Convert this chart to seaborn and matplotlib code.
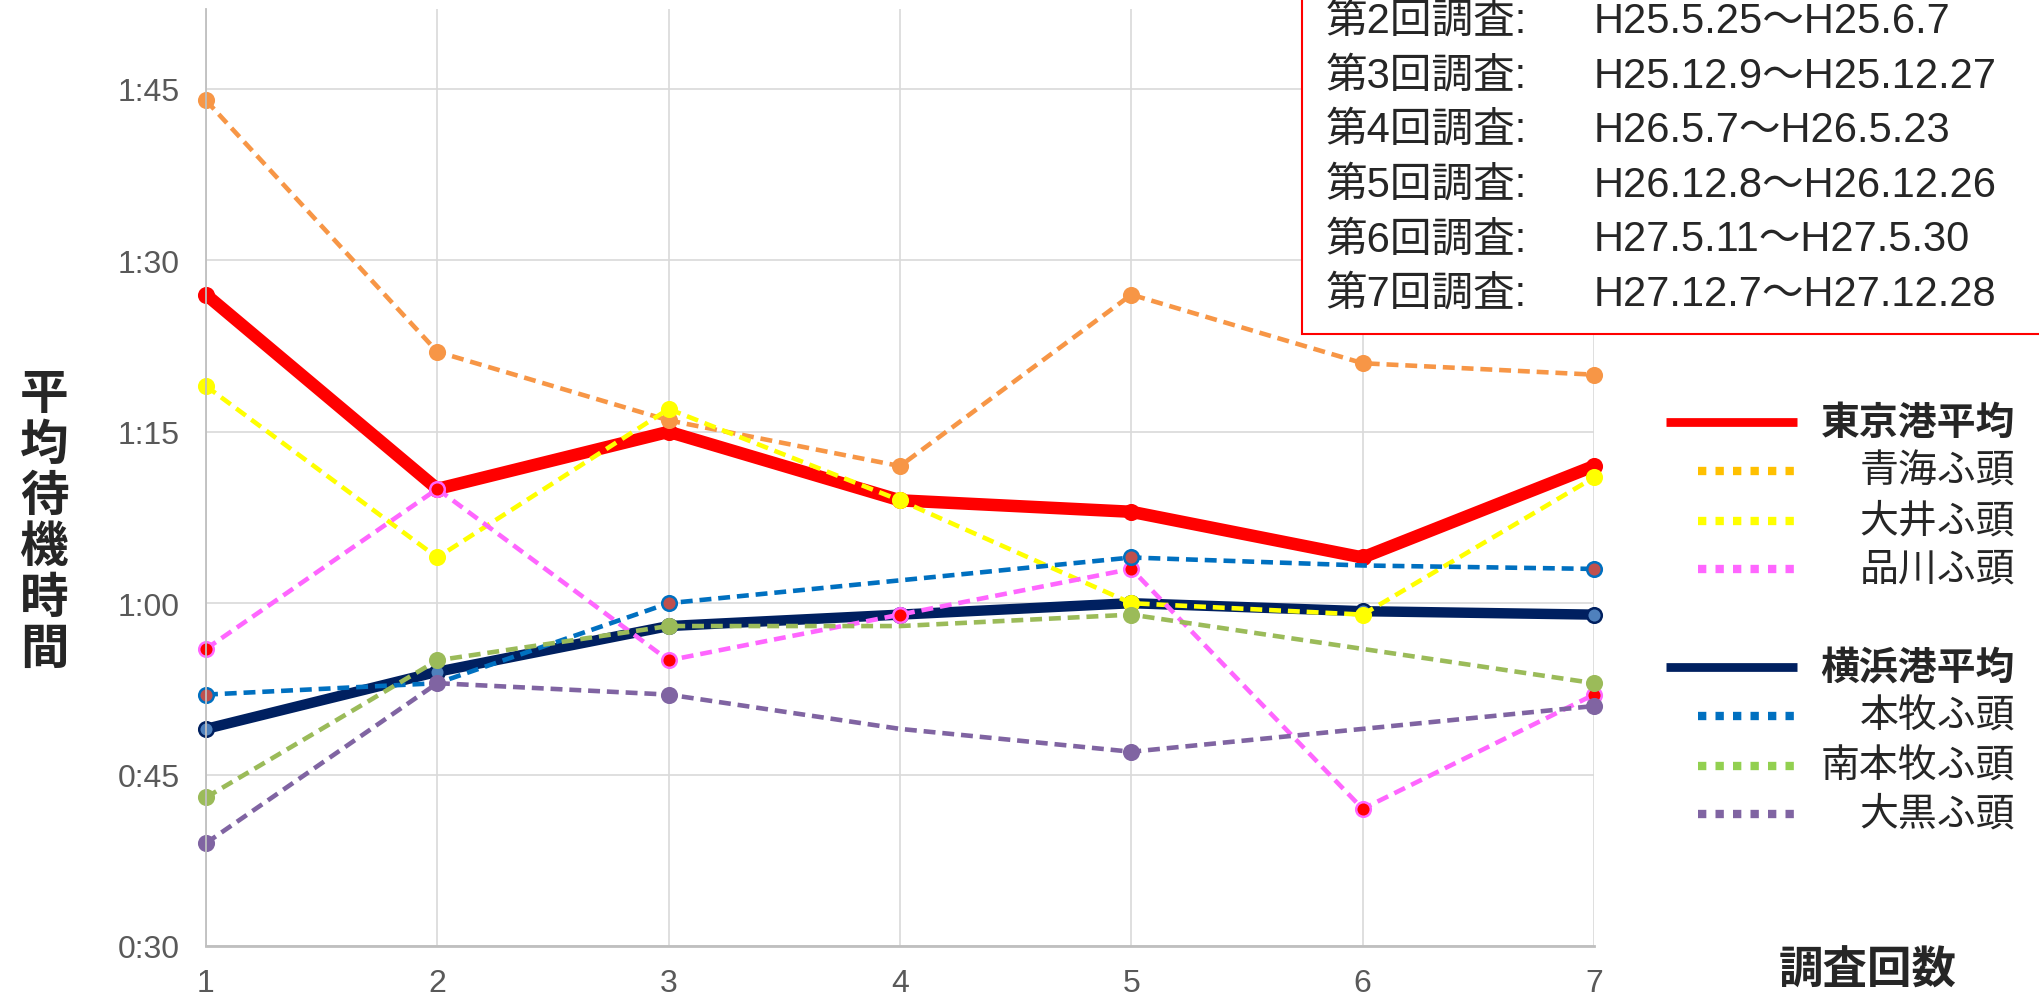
import matplotlib
matplotlib.use("Agg")
import matplotlib.pyplot as plt
from matplotlib.lines import Line2D
from matplotlib.patches import Rectangle
from matplotlib.ticker import FuncFormatter, MultipleLocator
import pandas as pd
import seaborn as sns

# survey round (x) and average waiting time in minutes (y)
surveys = [1, 2, 3, 4, 5, 6, 7]
tokyo_avg = [87, 70, 75, 69, 68, 64, 72]
aomi = [104, 82, 76, 72, 87, 81, 80]
oi = [79, 64, 77, 69, 60, 59, 71]
shinagawa = [56, 70, 55, 59, 63, 42, 52]
yokohama_avg = [49, 54, 58, 59, 60, 59.3, 59]
honmoku = [52, 53, 60, 62, 64, 63.3, 63]
minami_honmoku = [43, 55, 58, 58, 59, 56, 53]
daikoku = [39, 53, 52, 49, 47, 49, 51]

period_labels = ["第2回調査:", "第3回調査:", "第4回調査:",
                 "第5回調査:", "第6回調査:", "第7回調査:"]
period_dates = ["H25.5.25～H25.6.7", "H25.12.9～H25.12.27", "H26.5.7～H26.5.23",
                "H26.12.8～H26.12.26", "H27.5.11～H27.5.30", "H27.12.7～H27.12.28"]

sns.set_style("white")
plt.rcParams["font.family"] = ["Liberation Sans Narrow", "Liberation Sans", "Noto Sans CJK JP", "DejaVu Sans"]
CJK = ["Noto Sans CJK JP", "DejaVu Sans"]

W, H = 2040, 1003
fig = plt.figure(figsize=(W / 100, H / 100), dpi=100)
ax = fig.add_axes([206 / W, 1 - 947 / H, (1594 - 206) / W, (947 - 10) / H])

dash = (0, (2.6, 1.5))
# name, values, colour, width, style, marker face, marker edge, markevery
series = [
    ("東京港平均", tokyo_avg, "#FF0000", 9, "-", "#FF0000", "#FF0000", None),
    ("横浜港平均", yokohama_avg, "#002060", 7.5, "-", "#4F81BD", "#002060", None),
    ("青海ふ頭", aomi, "#F79646", 3.3, dash, "#F79646", "#F79646", None),
    ("大井ふ頭", oi, "#FFFF00", 3.3, dash, "#FFFF00", "#FFFF00", None),
    ("品川ふ頭", shinagawa, "#FF66FF", 3.3, dash, "#FF0000", "#FF66FF", None),
    ("本牧ふ頭", honmoku, "#0070C0", 3.3, dash, "#C0504D", "#0070C0", [0, 2, 4, 6]),
    ("南本牧ふ頭", minami_honmoku, "#9BBB59", 3.3, dash, "#9BBB59", "#9BBB59", [0, 1, 2, 4, 6]),
    ("大黒ふ頭", daikoku, "#8064A2", 3.3, dash, "#8064A2", "#8064A2", [0, 1, 2, 4, 6]),
]

for name, vals, col, lw, ls, mfc, mec, every in series:
    df = pd.DataFrame({"survey": surveys, "minutes": vals})
    sns.lineplot(data=df, x="survey", y="minutes", ax=ax, color=col, lw=lw,
                 linestyle=ls, marker="o", markersize=10.5, markerfacecolor=mfc,
                 markeredgecolor=mec, markeredgewidth=1.8, markevery=every,
                 clip_on=False)

ax.set_xlim(1, 7)
ax.set_ylim(30, 112)
ax.set_xticks(surveys)
ax.yaxis.set_major_locator(MultipleLocator(15))
ax.yaxis.set_major_formatter(FuncFormatter(lambda v, p: f"{int(v // 60)}:{int(v % 60):02d}"))
ax.grid(True, color="#D9D9D9", lw=1.2)
ax.set_axisbelow(True)
for s in ["top", "right"]:
    ax.spines[s].set_visible(False)
ax.spines["left"].set_color("#BFBFBF")
ax.spines["left"].set_linewidth(1.3)
ax.spines["bottom"].set_color("#BFBFBF")
ax.spines["bottom"].set_linewidth(2)
ax.tick_params(axis="both", length=0, labelsize=23, labelcolor="#595959")
ax.tick_params(axis="y", pad=19)
ax.tick_params(axis="x", pad=16)
ax.set_xlabel("")
ax.set_ylabel("")


def fx(px):
    return px / W


def fy(py):
    return 1 - py / H


# axis titles
fig.text(fx(44), fy(522), "\n".join("平均待機時間"), family=CJK, fontsize=35,
         fontweight="bold", ha="center", va="center", linespacing=1.05)
fig.text(fx(1868), fy(971), "調査回数", family=CJK, fontsize=32,
         fontweight="bold", ha="center", va="center")

# survey period box
fig.add_artist(Rectangle((fx(1302), fy(335)), 0.5, 0.5, transform=fig.transFigure,
                         facecolor="white", edgecolor="#FF0000", lw=1.5, zorder=5))
for i, (lab, dt) in enumerate(zip(period_labels, period_dates)):
    y = fy(22 + i * 54.6)
    fig.text(fx(1326), y, lab, fontsize=30, ha="left", va="center", zorder=6)
    fig.text(fx(1594), y, dt, fontsize=30, ha="left", va="center", zorder=6)

# legend
legend_items = [
    ("東京港平均", "#FF0000", True, 423),
    ("青海ふ頭", "#FFC000", False, 472),
    ("大井ふ頭", "#FFFF00", False, 522),
    ("品川ふ頭", "#FF66FF", False, 570),
    ("横浜港平均", "#002060", True, 668),
    ("本牧ふ頭", "#0070C0", False, 717),
    ("南本牧ふ頭", "#92D050", False, 767),
    ("大黒ふ頭", "#8064A2", False, 815),
]
for name, col, avg, py in legend_items:
    if avg:
        fig.add_artist(Line2D([fx(1666), fx(1797)], [fy(py), fy(py)], color=col,
                              lw=6.3, solid_capstyle="butt", transform=fig.transFigure))
    else:
        fig.add_artist(Line2D([fx(1698), fx(1797)], [fy(py), fy(py)], color=col,
                              lw=6, linestyle=(0, (1, 1.1)), dash_capstyle="butt",
                              transform=fig.transFigure))
    fig.text(fx(2015), fy(py), name, family=CJK, fontsize=28,
             fontweight="bold" if avg else "normal", ha="right", va="center")

fig.savefig("out.png", dpi=100)
